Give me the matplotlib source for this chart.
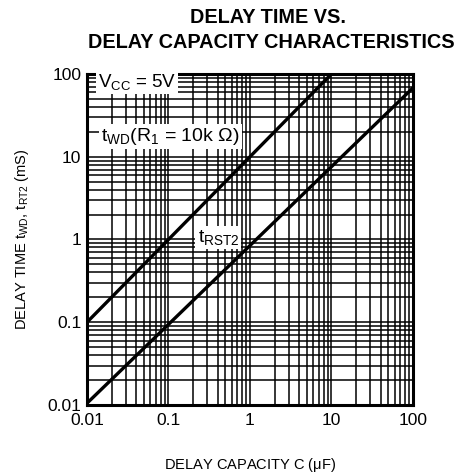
import matplotlib.pyplot as plt
from matplotlib.ticker import LogLocator, NullFormatter, FixedLocator

plt.rcParams["font.family"] = ["Liberation Sans", "DejaVu Sans"]
plt.rcParams["mathtext.fontset"] = "custom"
plt.rcParams["mathtext.rm"] = "Liberation Sans"
plt.rcParams["mathtext.it"] = "Liberation Sans"

# Capacity (uF) and delay time (mS)
cap_wd = [0.01, 10]
twd = [0.1, 100]
cap_rst = [0.01, 100]
trst2 = [0.0105, 68]

x_ticks = [0.01, 0.1, 1, 10, 100]
x_labels = ["0.01", "0.1", "1", "10", "100"]
y_ticks = [0.01, 0.1, 1, 10, 100]
y_labels = ["0.01", "0.1", "1", "10", "100"]

fig = plt.figure(figsize=(4.64, 4.73), dpi=100)
ax = fig.add_axes([0.1875, 0.1438, 0.7025, 0.6998])

ax.set_xscale("log")
ax.set_yscale("log")
ax.set_xlim(0.01, 100)
ax.set_ylim(0.01, 100)

# Grid like the datasheet paper
ax.xaxis.set_minor_locator(LogLocator(base=10, subs=range(2, 10)))
ax.yaxis.set_minor_locator(LogLocator(base=10, subs=range(2, 10)))
ax.xaxis.set_minor_formatter(NullFormatter())
ax.yaxis.set_minor_formatter(NullFormatter())
ax.grid(True, which="both", color="black", linewidth=1.1)

ax.plot(cap_wd, twd, color="black", linewidth=2.4, solid_capstyle="butt")
ax.plot(cap_rst, trst2, color="black", linewidth=2.4, solid_capstyle="butt")

ax.xaxis.set_major_locator(FixedLocator(x_ticks))
ax.yaxis.set_major_locator(FixedLocator(y_ticks))
ax.set_xticklabels(x_labels, fontsize=12.5)
ax.set_yticklabels(y_labels, fontsize=12.5)
ax.tick_params(axis="x", which="both", length=0, pad=6)
ax.tick_params(axis="y", which="both", length=0, pad=4)

for s in ax.spines.values():
    s.set_linewidth(2.2)

box = dict(facecolor="white", edgecolor="none", pad=1.5)
ax.text(0.041, 80, r"V$_{\mathregular{CC}}$ = 5V", fontsize=13.5,
        ha="center", va="center", bbox=box)
ax.text(0.105, 17.5, r"t$_{\mathregular{WD}}$(R$_{\mathregular{1}}$ = 10k Ω)",
        fontsize=14, ha="center", va="center", bbox=box)
ax.text(0.41, 1.05, r"t$_{\mathregular{RST2}}$", fontsize=14,
        ha="center", va="center", bbox=box)

fig.text(0.578, 0.963, "DELAY TIME VS.", fontsize=14.3, fontweight="bold",
         ha="center", va="center")
fig.text(0.585, 0.911, "DELAY CAPACITY CHARACTERISTICS", fontsize=14.3,
         fontweight="bold", ha="center", va="center")

ax.set_xlabel(r"DELAY CAPACITY C ($\mu$F)", fontsize=10.5, labelpad=20)
ax.set_ylabel(r"DELAY TIME t$_{\mathregular{WD}}$, t$_{\mathregular{RT2}}$ (mS)",
              fontsize=10.5, labelpad=12)

fig.savefig("out.png", dpi=100)
